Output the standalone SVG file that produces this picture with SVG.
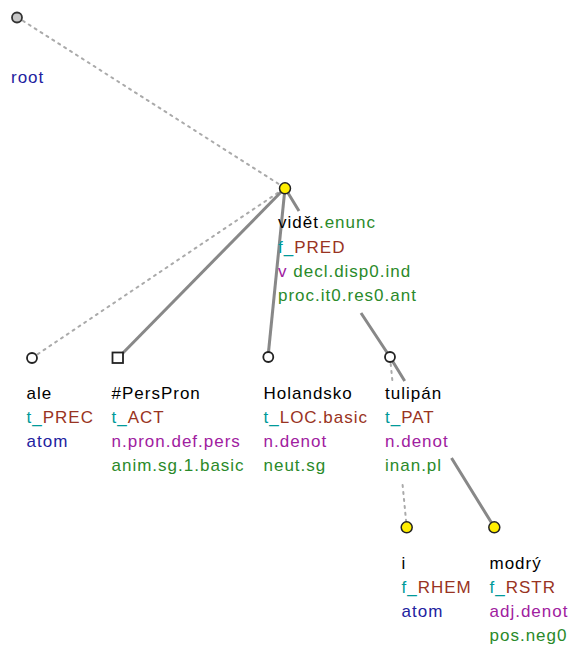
<svg xmlns="http://www.w3.org/2000/svg" width="570" height="646" viewBox="0 0 570 646">
<style>
text{font-family:"Liberation Sans",Arial,sans-serif;font-size:17px;letter-spacing:1px;fill:#000}
.lem{fill:#000}
.tl{fill:#009a9a}
.fn{fill:#993322}
.bl{fill:#2222a0}
.pu{fill:#a020a0}
.gr{fill:#2a8a2a}
.dot{fill:none;stroke:#aaaaaa;stroke-width:2;stroke-dasharray:2 5;stroke-linecap:round}
.sol{fill:none;stroke:#888888;stroke-width:3}
.wn{fill:#ffffff;stroke:#222222;stroke-width:1.8}
.yn{fill:#ffee00;stroke:#222222;stroke-width:1.5}
.rn{fill:#c8c8c8;stroke:#333333;stroke-width:1.8}
</style>
<rect width="570" height="646" fill="#ffffff"/>
<g id="connectors">
<path class="dot" d="M17 17 L285 188"/>
<path class="dot" d="M32 358 L285 188"/>
<path class="sol" d="M118 358 L285 188"/>
<path class="sol" d="M268 357 L285 188"/>
<path class="sol" d="M285 188 L299 211 M361 313 L390 357"/>
<path class="sol" d="M390 357 L404.7 381 M451.5 458 L494.3 527.3"/>
<path class="dot" d="M390 357 L392.3 380 M402.6 485 L406.7 527.3"/>
</g>
<g id="root">
<circle class="rn" cx="17" cy="17.5" r="5"/>
<text x="11" y="83"><tspan class="bl">root</tspan></text>
</g>
<g id="videt">
<circle class="yn" cx="285" cy="188.3" r="5.5"/>
<text x="278" y="228"><tspan class="lem">vidět</tspan><tspan class="gr">.enunc</tspan></text>
<text x="278" y="252.5"><tspan class="tl">f_</tspan><tspan class="fn">PRED</tspan></text>
<text x="278" y="277"><tspan class="pu">v</tspan><tspan class="gr"> decl.disp0.ind</tspan></text>
<text x="278" y="301"><tspan class="gr">proc.it0.res0.ant</tspan></text>
</g>
<g id="ale">
<circle class="wn" cx="32" cy="358" r="5"/>
<text x="26.5" y="399"><tspan class="lem">ale</tspan></text>
<text x="26.5" y="423"><tspan class="tl">t_</tspan><tspan class="fn">PREC</tspan></text>
<text x="26.5" y="447"><tspan class="bl">atom</tspan></text>
</g>
<g id="perspron">
<rect class="wn" x="112.5" y="352.5" width="10.5" height="10.5"/>
<text x="111.5" y="399"><tspan class="lem">#PersPron</tspan></text>
<text x="111.5" y="423"><tspan class="tl">t_</tspan><tspan class="fn">ACT</tspan></text>
<text x="111.5" y="447"><tspan class="pu">n.pron.def.pers</tspan></text>
<text x="111.5" y="471"><tspan class="gr">anim.sg.1.basic</tspan></text>
</g>
<g id="holandsko">
<circle class="wn" cx="268.3" cy="357" r="5"/>
<text x="263.5" y="399"><tspan class="lem">Holandsko</tspan></text>
<text x="263.5" y="423"><tspan class="tl">t_</tspan><tspan class="fn">LOC.basic</tspan></text>
<text x="263.5" y="447"><tspan class="pu">n.denot</tspan></text>
<text x="263.5" y="471"><tspan class="gr">neut.sg</tspan></text>
</g>
<g id="tulipan">
<circle class="wn" cx="390" cy="357" r="5"/>
<text x="385" y="399"><tspan class="lem">tulipán</tspan></text>
<text x="385" y="423"><tspan class="tl">t_</tspan><tspan class="fn">PAT</tspan></text>
<text x="385" y="447"><tspan class="pu">n.denot</tspan></text>
<text x="385" y="471"><tspan class="gr">inan.pl</tspan></text>
</g>
<g id="i">
<circle class="yn" cx="406.7" cy="527.3" r="5.5"/>
<text x="401.5" y="569"><tspan class="lem">i</tspan></text>
<text x="401.5" y="593"><tspan class="tl">f_</tspan><tspan class="fn">RHEM</tspan></text>
<text x="401.5" y="617"><tspan class="bl">atom</tspan></text>
</g>
<g id="modry">
<circle class="yn" cx="494.3" cy="527.3" r="5.5"/>
<text x="489.5" y="569"><tspan class="lem">modrý</tspan></text>
<text x="489.5" y="593"><tspan class="tl">f_</tspan><tspan class="fn">RSTR</tspan></text>
<text x="489.5" y="617"><tspan class="pu">adj.denot</tspan></text>
<text x="489.5" y="641"><tspan class="gr">pos.neg0</tspan></text>
</g>
</svg>
